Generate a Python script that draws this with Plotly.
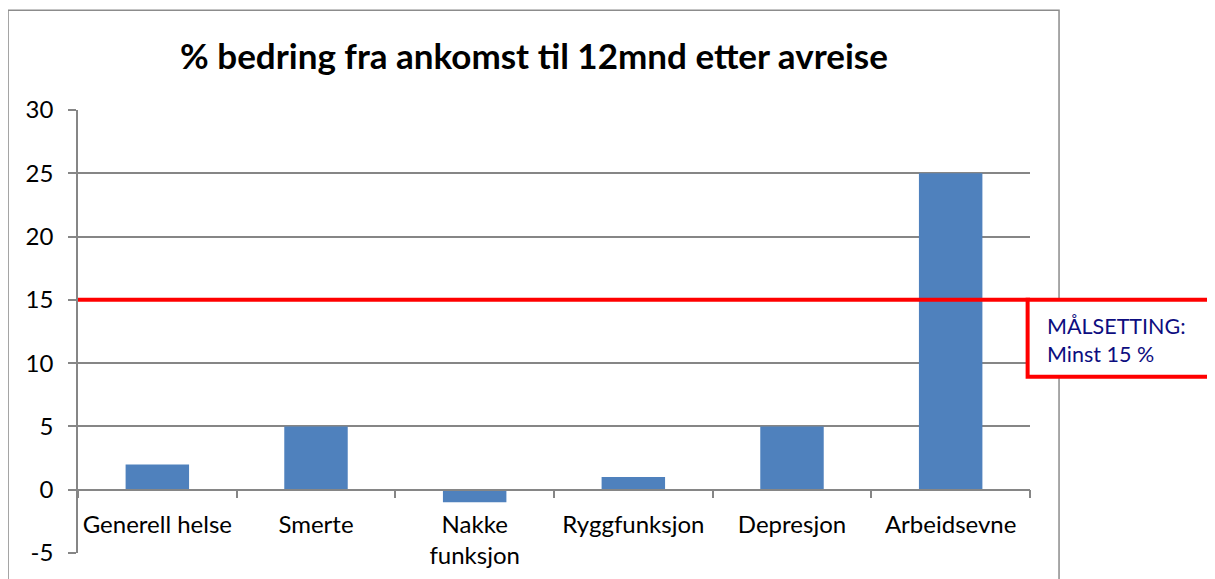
import plotly.graph_objects as go

categories = ["Generell helse", "Smerte", "Nakke<br>funksjon", "Ryggfunksjon", "Depresjon", "Arbeidsevne"]
improvement = [2, 5, -1, 1, 5, 25]
target = 15
y_ticks = [-5, 0, 5, 10, 15, 20, 25, 30]
y_tick_text = ["-5", "0", "5", "10", "15", "20", "25", "30"]

GRID = "#868686"
FONT = "Lato, Carlito, sans-serif"

fig = go.Figure(
    go.Bar(
        x=categories,
        y=improvement,
        marker_color="#4F81BD",
        marker_line_width=0,
        hoverinfo="x+y",
    )
)

# outer chart frame (cut off at the bottom like the source)
fig.add_shape(type="rect", xref="paper", yref="paper", x0=-0.0735, x1=1.0305, y0=-0.3, y1=1.2249,
              line=dict(color="#8C8C8C", width=1.5), layer="below")

# target line + callout box
fig.add_shape(type="line", xref="paper", yref="y", x0=0, x1=1, y0=target, y1=target,
              line=dict(color="#FF0000", width=4))
fig.add_shape(type="rect", xref="paper", yref="paper", x0=0.9975, x1=1.25, y0=0.398, y1=(target + 5) / 35,
              line=dict(color="#FF0000", width=4), fillcolor="white")
fig.add_annotation(xref="paper", yref="paper", x=1.016, y=0.48, xanchor="left", yanchor="middle",
                   text="MÅLSETTING:<br>Minst 15 %", showarrow=False, align="left",
                   font=dict(family="Lato, sans-serif", size=21.5, color="#0D0D80"))

# page body has an 8px margin, so the figure is 8px smaller and margins shifted
fig.update_layout(
    width=1207,
    height=571,
    margin=dict(l=70, r=185, t=102, b=26, autoexpand=False),
    paper_bgcolor="white",
    plot_bgcolor="white",
    bargap=0.6,
    showlegend=False,
    font=dict(family=FONT, size=24, color="black"),
    title=dict(
        text="<b>% bedring fra ankomst til 12mnd etter avreise</b>",
        x=0.4358, xanchor="center", y=0.914, yanchor="middle",
        font=dict(family=FONT, size=35, color="black"),
    ),
)
fig.update_xaxes(
    anchor="free",
    position=5 / 35,
    automargin=False,
    tickangle=0,
    showline=True,
    linecolor=GRID,
    linewidth=1.5,
    ticks="outside",
    tickson="boundaries",
    ticklen=8,
    tickcolor=GRID,
    tickwidth=1.5,
    showgrid=False,
    ticklabelstandoff=14,
    tickfont=dict(size=24),
)
fig.update_yaxes(
    range=[-5, 30],
    tickvals=y_ticks,
    ticktext=y_tick_text,
    automargin=False,
    showline=True,
    linecolor=GRID,
    linewidth=1.5,
    showgrid=True,
    gridcolor=GRID,
    gridwidth=1.5,
    zeroline=False,
    ticks="outside",
    ticklen=8,
    tickcolor=GRID,
    tickwidth=1.5,
    ticklabelstandoff=10,
    tickfont=dict(size=24),
)

fig.write_html("out.html")
